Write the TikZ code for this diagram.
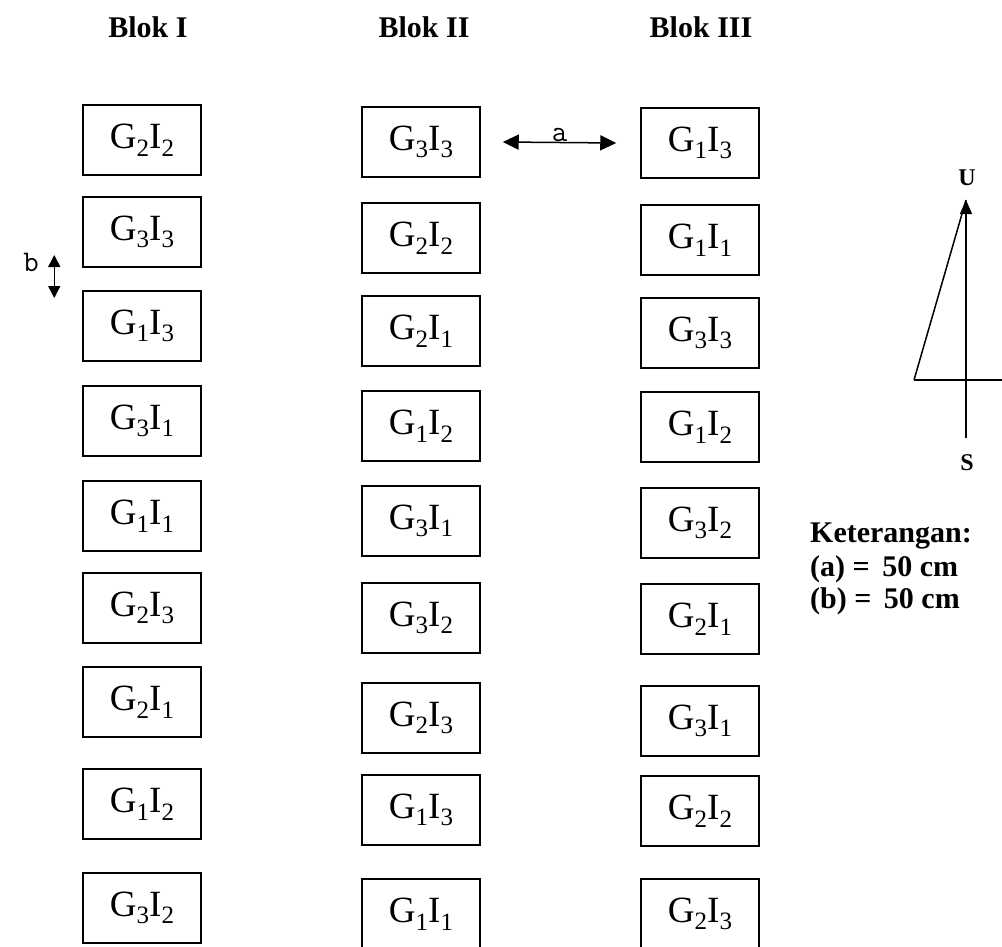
\documentclass[tikz,border=0pt]{standalone}
\usepackage{fontspec}
\newfontfamily\boxfnt{Liberation Serif}
\usetikzlibrary{arrows.meta}
\newcommand\subdig[1]{\raisebox{-0.45ex}{\fontsize{25}{25}\selectfont #1}}
\newcommand\GI[2]{G\subdig{#1}I\subdig{#2}}
\tikzset{
  plotbox/.style={draw, line width=1.5pt, minimum width=118pt, minimum height=70pt, inner sep=0pt,
    font=\fontsize{37}{40}\selectfont\boxfnt},
  blok/.style={font=\fontsize{30}{34}\selectfont\boxfnt\bfseries},
  dimlbl/.style={font=\fontsize{30}{32}\selectfont\ttfamily},
  dirlbl/.style={font=\fontsize{24}{28}\selectfont\boxfnt\bfseries},
  note/.style={font=\fontsize{30}{34}\selectfont\boxfnt\bfseries, anchor=west, inner sep=0pt},
  dimarrow/.style={line width=1.5pt, {Triangle[length=16pt,width=15pt]}-{Triangle[length=16pt,width=15pt]}},
  dimarrowb/.style={line width=1.5pt, {Triangle[length=12pt,width=12pt]}-{Triangle[length=12pt,width=12pt]}},
  compass/.style={line width=1.5pt}
}
\begin{document}
\begin{tikzpicture}[x=1pt,y=-1pt]
\useasboundingbox (0,0) rectangle (1002,947);

% titles
\node[blok] (t1) at (148,27) {Blok I};
\node[blok] (t2) at (424,27) {Blok II};
\node[blok] (t3) at (701,27) {Blok III};

% Blok I
\foreach \g/\i/\yy [count=\n] in {2/2/140,3/3/232,1/3/326,3/1/421,1/1/516,2/3/608,2/1/702,1/2/804,3/2/908}
  \node[plotbox] (a\n) at (142,\yy) {\GI{\g}{\i}};
% Blok II
\foreach \g/\i/\yy [count=\n] in {3/3/142,2/2/238,2/1/331,1/2/426,3/1/521,3/2/618,2/3/718,1/3/810,1/1/914}
  \node[plotbox] (b\n) at (421,\yy) {\GI{\g}{\i}};
% Blok III
\foreach \g/\i/\yy [count=\n] in {1/3/143,1/1/240,3/3/333,1/2/427,3/2/523,2/1/619,3/1/721,2/2/811,2/3/914}
  \node[plotbox] (c\n) at (700,\yy) {\GI{\g}{\i}};

% distance a
\coordinate (aL) at ([xshift=22pt]b1.east);
\coordinate (aR) at ([xshift=-24pt]c1.west);
\draw[dimarrow] (aL) -- node[dimlbl, above=-3pt] (la) {a} (aR);

% distance b
\coordinate (bT) at ([xshift=-28pt]a2.south west |- 0,255);
\coordinate (bB) at ([xshift=-28pt]a3.north west |- 0,298);
\draw[dimarrowb] (bT) -- (bB);
\node[dimlbl] (lb) at (31,262) {b};

% compass
\coordinate (N) at (966,200);
\coordinate (Sb) at (966,438);
\coordinate (W) at (914,380);
\coordinate (E) at (1004,380);
\draw[compass, -{Triangle[length=14pt,width=12pt]}] (Sb) -- (N);
\draw[compass] (W) -- (E);
\draw[compass] (W) -- (N);
\node[dirlbl] (lu) at (967,178) {U};
\node[dirlbl] (ls) at (967,463) {S};

% legend
\node[note] (k0) at (810,536) {Keterangan:};
\node[note] (k1) at (810,569) {(a) =\, 50 cm};
\node[note] (k2) at (810,601) {(b) =\, 50 cm};
\end{tikzpicture}
\end{document}
